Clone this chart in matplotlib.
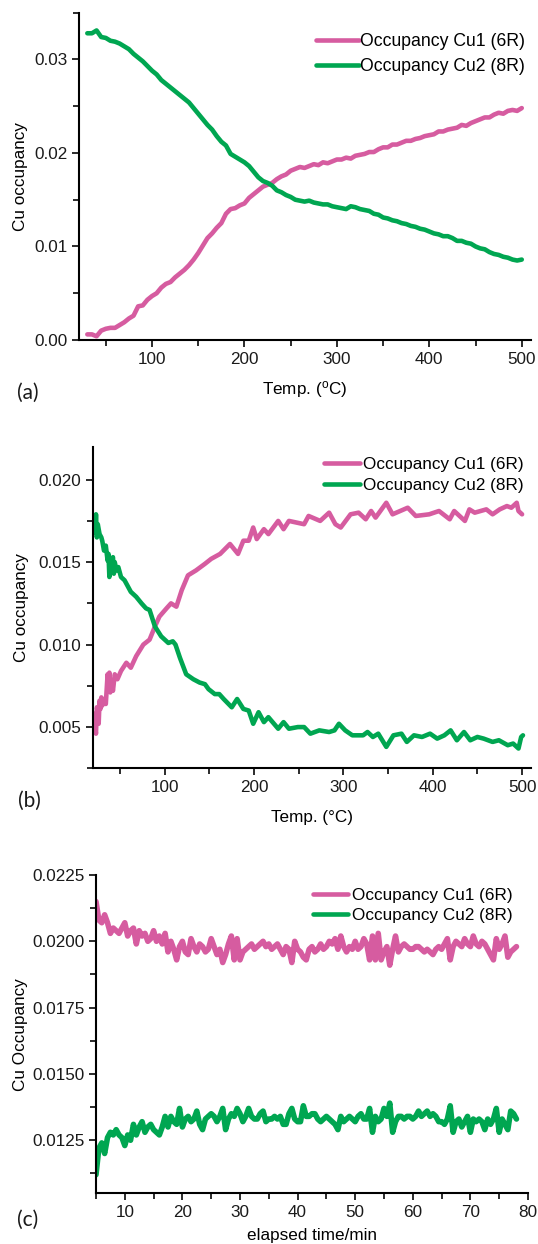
import numpy as np
import matplotlib
matplotlib.use('Agg')
import matplotlib.pyplot as plt
from matplotlib.ticker import MultipleLocator, FormatStrFormatter

# ---------------- data ----------------
# (a) temperature ramp, 5 degC steps from 30 to 500
temp_a = np.arange(30, 501, 5)
cu1_a = [0.0006, 0.0006, 0.0004, 0.0010, 0.0012, 0.0013, 0.0013, 0.0016, 0.0019, 0.0023,
         0.0026, 0.0036, 0.0037, 0.0043, 0.0047, 0.0050, 0.0056, 0.0060, 0.0062, 0.0067,
         0.0071, 0.0075, 0.0080, 0.0086, 0.0093, 0.0101, 0.0109, 0.0114, 0.0120, 0.0125,
         0.0135, 0.0140, 0.0141, 0.0144, 0.0146, 0.0152, 0.0156, 0.0160, 0.0164, 0.0166,
         0.0168, 0.0172, 0.0175, 0.0177, 0.0181, 0.0183, 0.0185, 0.0184, 0.0186, 0.0188,
         0.0187, 0.0190, 0.0189, 0.0191, 0.0193, 0.0193, 0.0195, 0.0194, 0.0197, 0.0198,
         0.0199, 0.0201, 0.0201, 0.0204, 0.0206, 0.0206, 0.0209, 0.0209, 0.0211, 0.0213,
         0.0213, 0.0215, 0.0216, 0.0218, 0.0219, 0.0220, 0.0223, 0.0223, 0.0225, 0.0226,
         0.0227, 0.0230, 0.0229, 0.0232, 0.0234, 0.0236, 0.0238, 0.0238, 0.0241, 0.0243,
         0.0242, 0.0245, 0.0246, 0.0245, 0.0248]
cu2_a = [0.0328, 0.0328, 0.0331, 0.0324, 0.0323, 0.0320, 0.0319, 0.0317, 0.0314, 0.0311,
         0.0306, 0.0302, 0.0298, 0.0293, 0.0288, 0.0284, 0.0278, 0.0274, 0.0270, 0.0266,
         0.0262, 0.0258, 0.0254, 0.0248, 0.0242, 0.0236, 0.0230, 0.0225, 0.0218, 0.0212,
         0.0208, 0.0199, 0.0196, 0.0193, 0.0190, 0.0186, 0.0180, 0.0174, 0.0170, 0.0168,
         0.0165, 0.0160, 0.0158, 0.0155, 0.0153, 0.0150, 0.0149, 0.0148, 0.0149, 0.0147,
         0.0146, 0.0145, 0.0145, 0.0143, 0.0142, 0.0141, 0.0140, 0.0143, 0.0142, 0.0140,
         0.0139, 0.0138, 0.0135, 0.0134, 0.0131, 0.0130, 0.0128, 0.0127, 0.0125, 0.0124,
         0.0122, 0.0121, 0.0119, 0.0118, 0.0116, 0.0114, 0.0113, 0.0111, 0.0111, 0.0109,
         0.0106, 0.0106, 0.0104, 0.0103, 0.0100, 0.0098, 0.0097, 0.0094, 0.0092, 0.0091,
         0.0089, 0.0088, 0.0086, 0.0085, 0.0086]

# (b) second temperature run
temp_b1 = [21, 22, 23, 24, 25, 26, 27, 28, 29, 30, 32, 34, 36, 37, 38, 39, 40, 42, 44, 47,
           51, 57, 62, 68, 76, 83, 89, 94, 102, 107, 113, 119, 126, 135, 145, 152, 162, 173,
           182, 188, 194, 199, 203, 211, 216, 227, 233, 239, 256, 261, 274, 284, 291, 297,
           308, 317, 325, 331, 336, 348, 355, 372, 381, 396, 407, 419, 424, 436, 441, 447,
           460, 467, 475, 483, 488, 494, 496, 500]
cu1_b = [0.0058, 0.0050, 0.0046, 0.0062, 0.0060, 0.0052, 0.0066, 0.0061, 0.0068, 0.0063,
         0.0067, 0.0064, 0.0082, 0.0073, 0.0083, 0.0071, 0.0078, 0.0072, 0.0082, 0.0079,
         0.0084, 0.0089, 0.0086, 0.0093, 0.0100, 0.0103, 0.0111, 0.0117, 0.0122, 0.0125,
         0.0123, 0.0133, 0.0142, 0.0145, 0.0149, 0.0152, 0.0155, 0.0161, 0.0155, 0.0163,
         0.0163, 0.0171, 0.0164, 0.0170, 0.0167, 0.0175, 0.0170, 0.0175, 0.0173, 0.0178,
         0.0175, 0.0180, 0.0173, 0.0171, 0.0179, 0.0180, 0.0176, 0.0181, 0.0177, 0.0186,
         0.0179, 0.0183, 0.0178, 0.0179, 0.0181, 0.0176, 0.0181, 0.0175, 0.0182, 0.0180,
         0.0182, 0.0179, 0.0182, 0.0184, 0.0183, 0.0186, 0.0181, 0.0179]
temp_b2 = [21, 22, 23, 24, 25, 27, 29, 30, 32, 34, 36, 37, 38, 40, 42, 43, 44, 46, 48, 51,
           55, 59, 62, 68, 74, 79, 83, 89, 96, 104, 109, 112, 117, 124, 132, 139, 145, 149,
           156, 161, 166, 175, 181, 188, 194, 199, 205, 211, 216, 227, 233, 239, 249, 256,
           263, 273, 284, 290, 295, 302, 310, 322, 327, 333, 339, 348, 356, 365, 371, 379,
           388, 397, 405, 413, 420, 427, 435, 442, 450, 457, 467, 474, 484, 490, 496, 499, 501]
cu2_b = [0.0177, 0.0168, 0.0179, 0.0165, 0.0173, 0.0167, 0.0165, 0.0163, 0.0157, 0.0160,
         0.0151, 0.0155, 0.0141, 0.0150, 0.0153, 0.0143, 0.0150, 0.0145, 0.0147, 0.0141,
         0.0139, 0.0135, 0.0132, 0.0129, 0.0125, 0.0122, 0.0121, 0.0111, 0.0105, 0.0101,
         0.0102, 0.0100, 0.0092, 0.0082, 0.0079, 0.0077, 0.0076, 0.0073, 0.0070, 0.0070,
         0.0067, 0.0062, 0.0067, 0.0061, 0.0060, 0.0052, 0.0059, 0.0053, 0.0056, 0.0049,
         0.0053, 0.0049, 0.0050, 0.0050, 0.0046, 0.0048, 0.0047, 0.0048, 0.0052, 0.0048,
         0.0045, 0.0045, 0.0047, 0.0044, 0.0046, 0.0038, 0.0045, 0.0046, 0.0041, 0.0045,
         0.0044, 0.0046, 0.0043, 0.0045, 0.0048, 0.0042, 0.0047, 0.0042, 0.0044, 0.0043,
         0.0041, 0.0042, 0.0039, 0.0040, 0.0037, 0.0044, 0.0045]

# (c) isothermal, every 0.5 min from 5 to 78 min
cu1_c = [0.0215, 0.0208, 0.0207, 0.0210, 0.0207, 0.0203, 0.0205, 0.0204, 0.0203, 0.0205,
         0.0207, 0.0202, 0.0204, 0.0205, 0.0199, 0.0204, 0.0202, 0.0203, 0.0200, 0.0201,
         0.0204, 0.0200, 0.0202, 0.0199, 0.0203, 0.0196, 0.0200, 0.0197, 0.0193, 0.0198,
         0.0200, 0.0196, 0.0195, 0.0201, 0.0198, 0.0196, 0.0199, 0.0198, 0.0196, 0.0197,
         0.0201, 0.0198, 0.0195, 0.0197, 0.0192, 0.0195, 0.0199, 0.0202, 0.0193, 0.0201,
         0.0193, 0.0196, 0.0197, 0.0198, 0.0199, 0.0197, 0.0198, 0.0199, 0.0200, 0.0198,
         0.0199, 0.0197, 0.0198, 0.0199, 0.0197, 0.0195, 0.0198, 0.0197, 0.0192, 0.0200,
         0.0197, 0.0196, 0.0194, 0.0193, 0.0197, 0.0198, 0.0196, 0.0197, 0.0199, 0.0197,
         0.0198, 0.0200, 0.0199, 0.0201, 0.0197, 0.0202, 0.0198, 0.0196, 0.0198, 0.0197,
         0.0200, 0.0197, 0.0198, 0.0201, 0.0199, 0.0193, 0.0202, 0.0193, 0.0203, 0.0193,
         0.0196, 0.0198, 0.0191, 0.0197, 0.0202, 0.0196, 0.0198, 0.0199, 0.0198, 0.0197,
         0.0197, 0.0198, 0.0198, 0.0197, 0.0196, 0.0197, 0.0196, 0.0195, 0.0197, 0.0198,
         0.0197, 0.0199, 0.0201, 0.0193, 0.0198, 0.0200, 0.0199, 0.0198, 0.0201, 0.0199,
         0.0198, 0.0202, 0.0199, 0.0198, 0.0200, 0.0199, 0.0197, 0.0195, 0.0193, 0.0201,
         0.0197, 0.0199, 0.0202, 0.0194, 0.0196, 0.0197, 0.0198]
cu2_c = [0.0112, 0.0122, 0.0124, 0.0120, 0.0126, 0.0128, 0.0127, 0.0129, 0.0127, 0.0126,
         0.0123, 0.0127, 0.0125, 0.0131, 0.0127, 0.0130, 0.0132, 0.0128, 0.0130, 0.0131,
         0.0129, 0.0128, 0.0127, 0.0130, 0.0134, 0.0130, 0.0134, 0.0132, 0.0131, 0.0137,
         0.0130, 0.0133, 0.0134, 0.0132, 0.0133, 0.0136, 0.0131, 0.0129, 0.0133, 0.0134,
         0.0135, 0.0134, 0.0132, 0.0134, 0.0137, 0.0129, 0.0133, 0.0135, 0.0134, 0.0137,
         0.0135, 0.0132, 0.0134, 0.0137, 0.0134, 0.0133, 0.0133, 0.0135, 0.0136, 0.0132,
         0.0133, 0.0133, 0.0134, 0.0133, 0.0134, 0.0131, 0.0131, 0.0135, 0.0137, 0.0133,
         0.0132, 0.0132, 0.0138, 0.0134, 0.0134, 0.0135, 0.0135, 0.0133, 0.0132, 0.0133,
         0.0134, 0.0133, 0.0132, 0.0131, 0.0129, 0.0134, 0.0132, 0.0133, 0.0134, 0.0133,
         0.0132, 0.0134, 0.0135, 0.0133, 0.0133, 0.0137, 0.0128, 0.0134, 0.0132, 0.0133,
         0.0137, 0.0134, 0.0139, 0.0128, 0.0132, 0.0134, 0.0134, 0.0133, 0.0134, 0.0134,
         0.0133, 0.0134, 0.0136, 0.0134, 0.0135, 0.0136, 0.0134, 0.0135, 0.0134, 0.0132,
         0.0132, 0.0131, 0.0133, 0.0138, 0.0128, 0.0132, 0.0133, 0.0130, 0.0132, 0.0134,
         0.0128, 0.0133, 0.0132, 0.0133, 0.0132, 0.0129, 0.0133, 0.0131, 0.0133, 0.0137,
         0.0128, 0.0133, 0.0131, 0.0129, 0.0136, 0.0135, 0.0133]
time_c = 5.0 + 0.5 * np.arange(len(cu1_c))

label1 = 'Occupancy Cu1 (6R)'
label2 = 'Occupancy Cu2 (8R)'

# ---------------- style ----------------
plt.rcParams['font.family'] = ['Liberation Sans', 'DejaVu Sans']
plt.rcParams['mathtext.default'] = 'regular'
PINK = '#D65CA0'
GREEN = '#00A651'
FS = 12.3
LW = 3.3

W, H = 538, 1244
fig = plt.figure(figsize=(W / 100, H / 100), dpi=100)


def add_axes_px(left, top, right, bottom):
    return fig.add_axes([left / W, 1 - bottom / H, (right - left) / W, (bottom - top) / H])


def style(ax, xmaj, xmin, ymaj, ymin, yfmt):
    for s in ('top', 'right'):
        ax.spines[s].set_visible(False)
    for s in ('left', 'bottom'):
        ax.spines[s].set_linewidth(1.5)
    ax.xaxis.set_major_locator(MultipleLocator(xmaj))
    ax.xaxis.set_minor_locator(MultipleLocator(xmin))
    ax.yaxis.set_major_locator(MultipleLocator(ymaj))
    ax.yaxis.set_minor_locator(MultipleLocator(ymin))
    ax.yaxis.set_major_formatter(FormatStrFormatter(yfmt))
    ax.tick_params(which='both', direction='out', width=1.3, labelsize=FS, colors='#1a1a1a')
    ax.tick_params(which='major', length=5)
    ax.tick_params(which='minor', length=4)


def legend(ax, x, y, hl, pad, sp, fs=FS):
    ax.legend(loc='upper right', bbox_to_anchor=(x, y), frameon=False, fontsize=fs,
              handlelength=hl, handletextpad=pad, labelspacing=sp,
              borderpad=0, borderaxespad=0)


# ---------------- (a) ----------------
ax1 = add_axes_px(79, 12.7, 531, 340)
ax1.plot(temp_a, cu1_a, color=PINK, lw=LW, solid_capstyle='round', label=label1)
ax1.plot(temp_a, cu2_a, color=GREEN, lw=LW, solid_capstyle='round', label=label2)
ax1.set_xlim(21, 510)
ax1.set_ylim(0, 0.035)
style(ax1, 100, 50, 0.01, 0.005, '%.2f')
ax1.set_xlabel(r'Temp. ($^{o}$C)', fontsize=FS, va='center')
ax1.xaxis.set_label_coords(0.5, -0.151)
ax1.set_ylabel('Cu occupancy', fontsize=FS, va='center')
ax1.yaxis.set_label_coords(-0.13, 0.5)
legend(ax1, 0.987, 0.937, 2.4, 0.08, 0.42, fs=12.7)

# ---------------- (b) ----------------
ax2 = add_axes_px(93.3, 446.7, 531, 768.3)
ax2.plot(temp_b1, cu1_b, color=PINK, lw=LW, solid_capstyle='round', label=label1)
ax2.plot(temp_b2, cu2_b, color=GREEN, lw=LW, solid_capstyle='round', label=label2)
ax2.set_xlim(20, 510)
ax2.set_ylim(0.0025, 0.022)
style(ax2, 100, 50, 0.005, 0.0025, '%.3f')
ax2.set_xlabel('Temp. (°C)', fontsize=FS, va='center')
ax2.xaxis.set_label_coords(0.5, -0.1545)
ax2.set_ylabel('Cu occupancy', fontsize=FS, va='center')
ax2.yaxis.set_label_coords(-0.165, 0.5)
legend(ax2, 0.984, 0.967, 2.1, 0.2, 0.31)

# ---------------- (c) ----------------
ax3 = add_axes_px(96, 875, 528, 1193.3)
ax3.plot(time_c, cu1_c, color=PINK, lw=4.0, solid_capstyle='round', label=label1)
ax3.plot(time_c, cu2_c, color=GREEN, lw=4.0, solid_capstyle='round', label=label2)
ax3.set_xlim(5, 80)
ax3.set_ylim(0.0105, 0.0225)
style(ax3, 10, 5, 0.0025, 0.00125, '%.4f')
ax3.set_xlabel('elapsed time/min', fontsize=FS, va='center')
ax3.xaxis.set_label_coords(0.5, -0.133)
ax3.set_ylabel('Cu Occupancy', fontsize=FS, va='center')
ax3.yaxis.set_label_coords(-0.174, 0.5)
legend(ax3, 0.964, 0.959, 2.1, 0.2, 0.28)
for line in ax3.get_legend().get_lines():
    line.set_linewidth(LW)

# panel letters
for txt, x, y in (('(a)', 28, 392.7), ('(b)', 29, 800.7), ('(c)', 27.5, 1220)):
    fig.text(x / W, 1 - y / H, txt, family=['Lato', 'DejaVu Sans'], fontsize=15,
             ha='center', va='center', color='#1a1a1a')

fig.savefig('out.png', dpi=100)
